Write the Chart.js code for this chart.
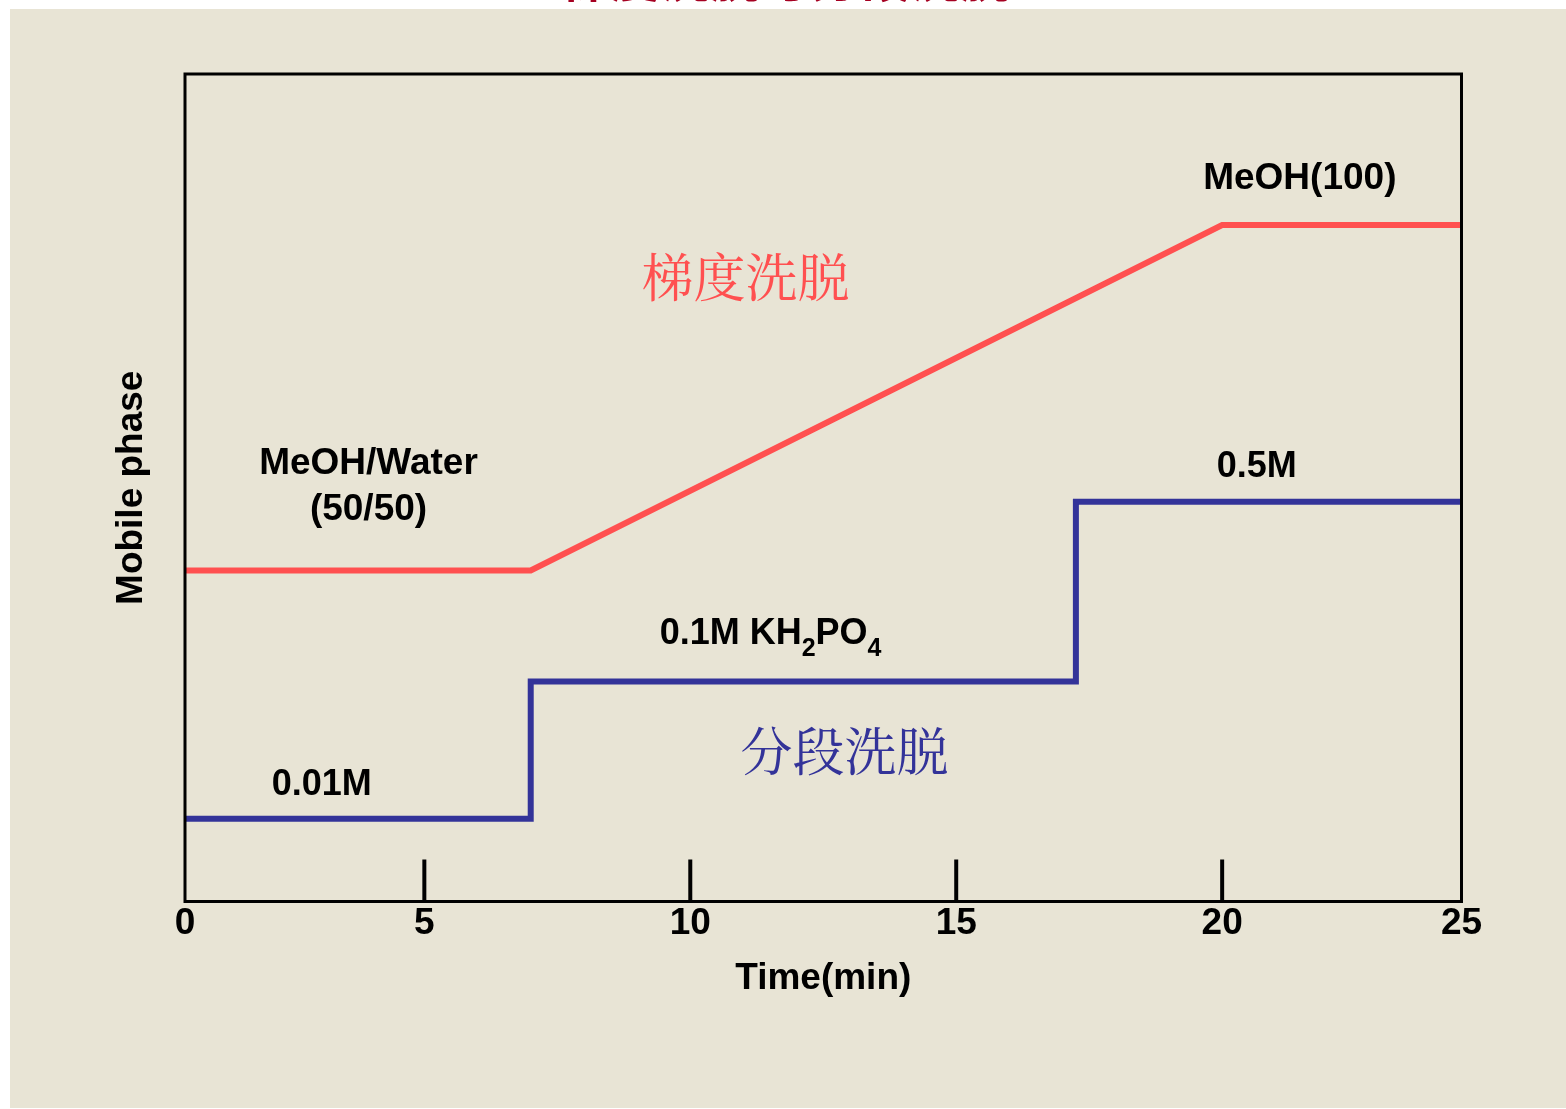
<!DOCTYPE html>
<html>
<head>
<meta charset="utf-8">
<script src="https://cdn.jsdelivr.net/npm/chart.js@4.4.1/dist/chart.umd.min.js"></script>
<style>
  html, body { margin: 0; padding: 0; background: #fff; }
  canvas { display: block; }
</style>
</head>
<body>
<canvas id="elution" width="1566" height="1109"></canvas>
<script>
// time axis (min)
const tickValues = [0, 5, 10, 15, 20, 25];
const tickLabels = ["0", "5", "10", "15", "20", "25"];
// the frame runs from 0.5 to 24.5 min; its two ends carry the "0" and "25" labels
const frameStart = 0.5;
const frameEnd = 24.5;

// gradient elution: MeOH/Water (50/50) -> MeOH (100)
const gradientTime = [0, 7, 20, 25];
const gradientLevel = [40, 40, 81.75, 81.75];

// step elution: 0.01M -> 0.1M -> 0.5M KH2PO4
const stepTime = [0, 7, 17.25, 25];
const stepLevel = [10, 26.6, 48.3, 48.3];

const SANS = "'Liberation Sans', Arial, sans-serif";
const CJK = "'Noto Serif CJK SC', 'Noto Sans CJK SC', serif";
const RED = "#FF5050";
const BLUE = "#333399";

// text placed in data units
const notes = [
  { x: 3.95, y: 50.15, parts: [["MeOH/Water"]], second: "(50/50)", color: "#000", font: "bold 37px " + SANS },
  { x: 21.46, y: 87.35, parts: [["MeOH(100)"]], color: "#000", font: "bold 37px " + SANS },
  { x: 11.04, y: 75.5, parts: [["梯度洗脱"]], color: RED, font: "52px " + CJK },
  { x: 20.65, y: 52.45, parts: [["0.5M"]], color: "#000", font: "bold 36px " + SANS },
  { x: 11.51, y: 32.35, parts: [["0.1M KH"], ["2", 1], ["PO"], ["4", 1]], color: "#000", font: "bold 36px " + SANS },
  { x: 3.07, y: 14.1, parts: [["0.01M"]], color: "#000", font: "bold 36px " + SANS },
  { x: 12.9, y: 18.2, parts: [["分段洗脱"]], color: BLUE, font: "52px " + CJK }
];

function toPoints(xs, ys) {
  return xs.map((x, i) => ({ x: x, y: ys[i] }));
}

const backdrop = {
  id: "backdrop",
  beforeDraw(chart) {
    const ctx = chart.ctx;
    ctx.save();
    ctx.fillStyle = "#fff";
    ctx.fillRect(0, 0, chart.width, chart.height);
    ctx.fillStyle = "#E8E4D5";
    ctx.fillRect(10, 9, chart.width - 10, chart.height - 10);
    // slide heading, cut off by the top edge
    ctx.fillStyle = "#A50021";
    ctx.font = "bold 50px 'Noto Sans CJK SC', sans-serif";
    ctx.textAlign = "center";
    ctx.textBaseline = "alphabetic";
    ctx.fillText("梯度洗脱与分段洗脱", 785, -3);
    ctx.restore();
  }
};

const frame = {
  id: "frame",
  afterDatasetsDraw(chart) {
    const ctx = chart.ctx;
    const a = chart.chartArea;
    const xs = chart.scales.x;
    ctx.save();
    ctx.strokeStyle = "#000";
    ctx.lineWidth = 3;
    ctx.strokeRect(a.left, a.top, a.right - a.left, a.bottom - a.top);
    // inner tick marks
    ctx.lineWidth = 4;
    tickValues.forEach(v => {
      if (v <= frameStart || v >= frameEnd) return;
      const px = xs.getPixelForValue(v);
      ctx.beginPath();
      ctx.moveTo(px, a.bottom);
      ctx.lineTo(px, a.bottom - 42);
      ctx.stroke();
    });
    ctx.restore();
  }
};

const labels = {
  id: "labels",
  afterDraw(chart) {
    const ctx = chart.ctx;
    const xs = chart.scales.x, ys = chart.scales.y;
    ctx.save();
    ctx.textBaseline = "middle";
    notes.forEach(n => {
      const cx = xs.getPixelForValue(n.x);
      let cy = ys.getPixelForValue(n.y);
      if (n.second) cy -= 23;
      ctx.fillStyle = n.color;
      const mainFont = n.font;
      const subFont = "bold 25px " + SANS;
      // measure the runs, subscripts in a smaller font
      let total = 0;
      const widths = n.parts.map(p => {
        ctx.font = p[1] ? subFont : mainFont;
        const w = ctx.measureText(p[0]).width;
        total += w;
        return w;
      });
      let x = cx - total / 2;
      ctx.textAlign = "left";
      n.parts.forEach((p, i) => {
        ctx.font = p[1] ? subFont : mainFont;
        ctx.fillText(p[0], x, p[1] ? cy + 15 : cy);
        x += widths[i];
      });
      if (n.second) {
        ctx.font = mainFont;
        ctx.textAlign = "center";
        ctx.fillText(n.second, cx, cy + 46);
      }
    });
    ctx.restore();
  }
};

new Chart(document.getElementById("elution"), {
  type: "line",
  data: {
    datasets: [
      {
        label: "梯度洗脱",
        data: toPoints(gradientTime, gradientLevel),
        borderColor: RED,
        borderWidth: 6,
        borderJoinStyle: "miter",
        pointRadius: 0,
        tension: 0,
        clip: 0
      },
      {
        label: "分段洗脱",
        data: toPoints(stepTime, stepLevel),
        borderColor: BLUE,
        borderWidth: 6,
        borderJoinStyle: "miter",
        stepped: "before",
        pointRadius: 0,
        clip: 0
      }
    ]
  },
  options: {
    responsive: false,
    animation: false,
    events: [],
    layout: { padding: { left: 113.5, right: 104.5, top: 74, bottom: 107.5 } },
    plugins: { legend: { display: false }, tooltip: { enabled: false } },
    scales: {
      x: {
        type: "linear",
        min: frameStart,
        max: frameEnd,
        grid: { display: false, drawTicks: false },
        border: { display: false },
        afterBuildTicks: s => {
          s.ticks = tickValues.map(v => ({ value: Math.min(Math.max(v, frameStart), frameEnd) }));
        },
        ticks: {
          autoSkip: false,
          maxRotation: 0,
          padding: 4,
          color: "#000",
          font: { family: SANS, size: 37, weight: "bold", lineHeight: 1 },
          callback: (v, i) => tickLabels[i]
        },
        title: {
          display: true,
          text: "Time(min)",
          color: "#000",
          font: { family: SANS, size: 37, weight: "bold", lineHeight: 1 },
          padding: { top: 14, bottom: 4 }
        }
      },
      y: {
        min: 0,
        max: 100,
        grid: { display: false, drawTicks: false },
        border: { display: false },
        ticks: { display: false },
        title: {
          display: true,
          text: "Mobile phase",
          color: "#000",
          font: { family: SANS, size: 37, weight: "bold", lineHeight: 1 },
          padding: { top: 0, bottom: 34.5 }
        }
      }
    }
  },
  plugins: [backdrop, frame, labels]
});
</script>
</body>
</html>
